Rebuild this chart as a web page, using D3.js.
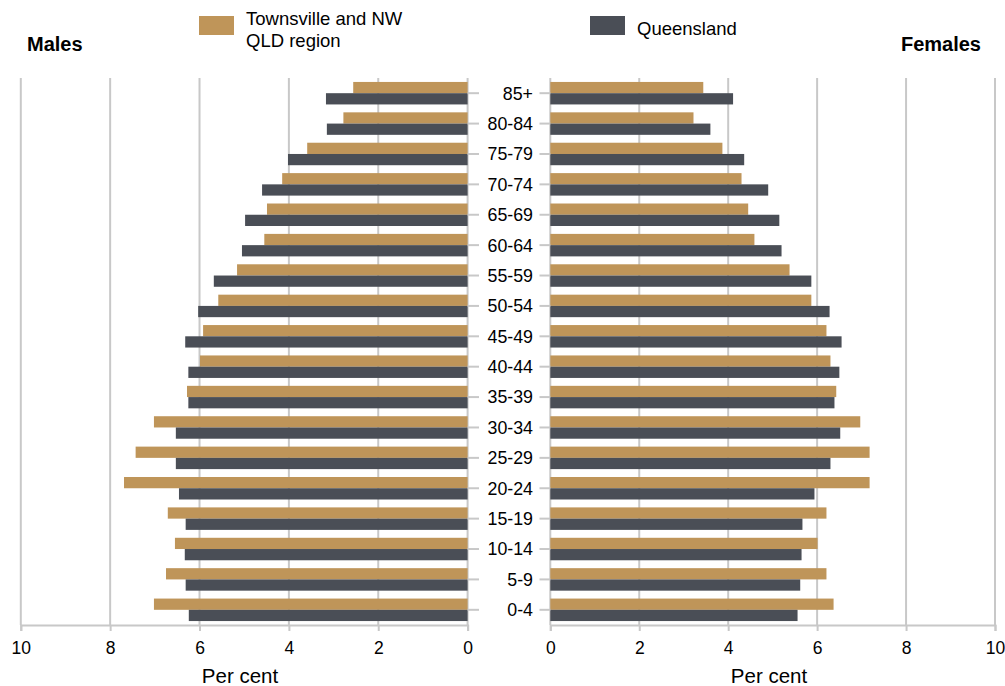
<!DOCTYPE html>
<html><head><meta charset="utf-8">
<script src="https://cdn.jsdelivr.net/npm/d3@7"></script>
<style>body{margin:0;background:#fff;font-family:"Liberation Sans",Arial,sans-serif;}</style>
</head><body><svg id="c" width="1005" height="686"></svg>
<script>
const ages = ["85+","80-84","75-79","70-74","65-69","60-64","55-59","50-54","45-49","40-44","35-39","30-34","25-29","20-24","15-19","10-14","5-9","0-4"];
const maleTown = [2.56,2.78,3.59,4.15,4.49,4.55,5.16,5.58,5.92,5.99,6.28,7.02,7.43,7.69,6.71,6.55,6.75,7.02];
const maleQld  = [3.17,3.15,4.02,4.60,4.98,5.05,5.68,6.03,6.32,6.25,6.25,6.53,6.53,6.46,6.31,6.33,6.31,6.24];
const femTown  = [3.44,3.22,3.87,4.30,4.45,4.59,5.38,5.87,6.21,6.30,6.43,6.97,7.18,7.18,6.21,6.01,6.21,6.37];
const femQld   = [4.11,3.60,4.36,4.90,5.15,5.20,5.87,6.28,6.55,6.50,6.39,6.52,6.30,5.94,5.67,5.65,5.62,5.56];
const xTicks = [0,2,4,6,8,10];
const seriesNames = ["Townsville and NW QLD region","Queensland"];
const colors = {town:"#BF9559", qld:"#4A4E56"};

const svg = d3.select("#c");
const grid = "#C8C8C8";
const y = d3.scaleBand().domain(ages).range([78,625]).paddingInner(0.26).paddingOuter(0.13);
const ys = d3.scaleBand().domain(["town","qld"]).range([0,y.bandwidth()]);
const xL = d3.scaleLinear().domain([0,10]).range([467.6,20.8]);
const xR = d3.scaleLinear().domain([0,10]).range([550.3,995]);

// gridlines
[xL,xR].forEach(x=>{
  svg.append("g").selectAll("line").data(xTicks).join("line")
    .attr("x1",d=>x(d)).attr("x2",d=>x(d)).attr("y1",78).attr("y2",625)
    .attr("stroke",grid).attr("stroke-width",2);
});

// bars
function bars(x, town, qld){
  const g = svg.append("g");
  ages.forEach((a,i)=>{
    [["town",town[i]],["qld",qld[i]]].forEach(([k,v])=>{
      g.append("rect")
        .attr("x",Math.min(x(0),x(v))).attr("width",Math.abs(x(v)-x(0)))
        .attr("y",y(a)+ys(k)).attr("height",ys.bandwidth())
        .attr("fill",colors[k]);
    });
  });
}
bars(xL, maleTown, maleQld);
bars(xR, femTown, femQld);

// bottom axes
function bottomAxis(x){
  const g = svg.append("g").attr("transform","translate(0,625)");
  g.call(d3.axisBottom(x).tickValues(xTicks).tickSize(6).tickFormat(d3.format("d")));
  g.select(".domain").attr("stroke",grid).attr("stroke-width",2);
  g.selectAll(".tick line").attr("stroke",grid).attr("stroke-width",2);
  g.selectAll("text").attr("font-size",17.5).attr("fill","#000").attr("font-family","Liberation Sans, Arial, sans-serif").attr("dy","1.12em");
}
bottomAxis(xL); bottomAxis(xR);

// category ticks
const cg = svg.append("g");
ages.forEach(a=>{
  const cy = y(a)+y.bandwidth()/2;
  cg.append("line").attr("x1",467.6).attr("x2",479).attr("y1",cy).attr("y2",cy).attr("stroke",grid).attr("stroke-width",2);
  cg.append("line").attr("x1",539.5).attr("x2",550.3).attr("y1",cy).attr("y2",cy).attr("stroke",grid).attr("stroke-width",2);
  cg.append("text").attr("x",533).attr("y",cy).attr("dy","0.36em").attr("text-anchor","end")
    .attr("font-size",17.8).text(a);
});

// axis titles
svg.append("text").attr("x",240).attr("y",683).attr("text-anchor","middle").attr("font-size",20.5).text("Per cent");
svg.append("text").attr("x",769).attr("y",683).attr("text-anchor","middle").attr("font-size",20.5).text("Per cent");

// panel titles
svg.append("text").attr("x",27).attr("y",51).attr("font-size",20).attr("font-weight","bold").text("Males");
svg.append("text").attr("x",981).attr("y",51).attr("text-anchor","end").attr("font-size",20).attr("font-weight","bold").text("Females");

// legend
svg.append("rect").attr("x",199).attr("y",16).attr("width",35).attr("height",19).attr("fill",colors.town);
svg.append("text").attr("x",246).attr("y",25).attr("font-size",18.5).text("Townsville and NW");
svg.append("text").attr("x",246).attr("y",47).attr("font-size",18.5).text("QLD region");
svg.append("rect").attr("x",590).attr("y",16).attr("width",35).attr("height",19).attr("fill",colors.qld);
svg.append("text").attr("x",637).attr("y",35).attr("font-size",18.5).text(seriesNames[1]);
</script></body></html>
